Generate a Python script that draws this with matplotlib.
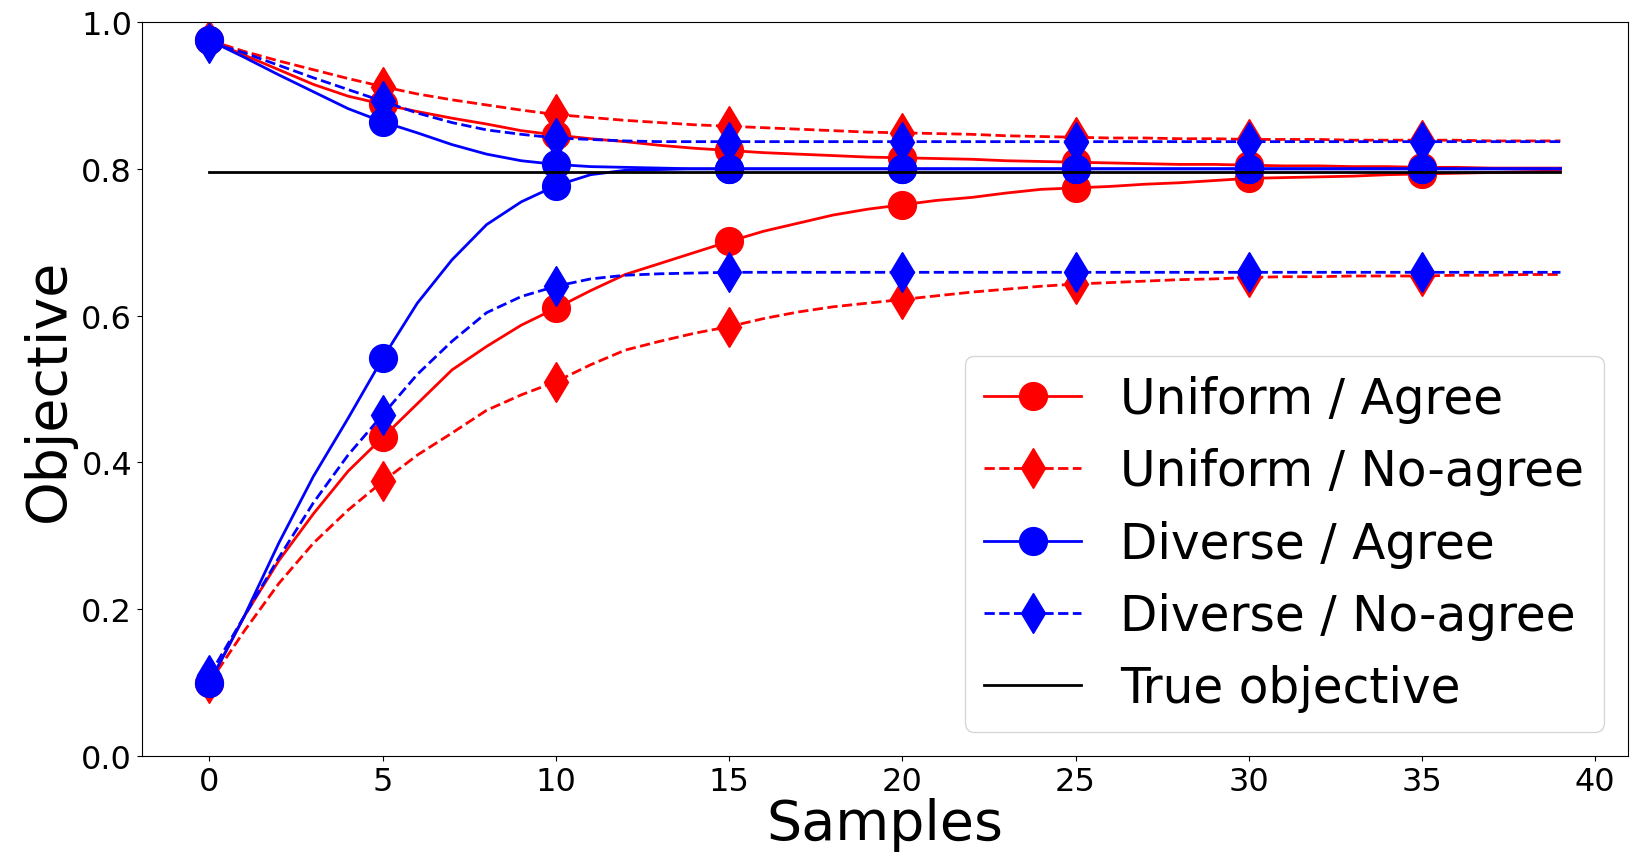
import numpy as np
import matplotlib
matplotlib.use("Agg")
import matplotlib.pyplot as plt

samples = np.arange(40)

# upper (from above) and lower (from below) estimates for each setting
uniform_agree_hi = [0.975, 0.955, 0.935, 0.915, 0.899, 0.888, 0.878, 0.869, 0.861, 0.852,
                    0.846, 0.841, 0.837, 0.832, 0.828, 0.825, 0.822, 0.820, 0.818, 0.816,
                    0.815, 0.814, 0.813, 0.811, 0.810, 0.809, 0.808, 0.807, 0.806, 0.806,
                    0.805, 0.804, 0.804, 0.803, 0.803, 0.802, 0.802, 0.801, 0.801, 0.801]
uniform_agree_lo = [0.100, 0.190, 0.266, 0.330, 0.388, 0.434, 0.480, 0.526, 0.558, 0.587,
                    0.610, 0.634, 0.656, 0.671, 0.686, 0.701, 0.715, 0.726, 0.737, 0.745,
                    0.751, 0.757, 0.761, 0.767, 0.772, 0.774, 0.776, 0.779, 0.781, 0.784,
                    0.787, 0.788, 0.789, 0.790, 0.792, 0.793, 0.794, 0.795, 0.796, 0.797]
uniform_noagree_hi = [0.975, 0.960, 0.947, 0.935, 0.923, 0.912, 0.902, 0.894, 0.887, 0.880,
                      0.874, 0.870, 0.866, 0.863, 0.860, 0.858, 0.856, 0.854, 0.852, 0.850,
                      0.849, 0.848, 0.847, 0.845, 0.844, 0.843, 0.842, 0.842, 0.841, 0.841,
                      0.840, 0.840, 0.840, 0.839, 0.839, 0.839, 0.839, 0.838, 0.838, 0.838]
uniform_noagree_lo = [0.100, 0.170, 0.235, 0.290, 0.335, 0.374, 0.410, 0.440, 0.471, 0.492,
                      0.510, 0.533, 0.553, 0.565, 0.576, 0.585, 0.596, 0.605, 0.612, 0.617,
                      0.622, 0.627, 0.632, 0.636, 0.640, 0.643, 0.645, 0.647, 0.649, 0.650,
                      0.652, 0.653, 0.653, 0.654, 0.654, 0.654, 0.655, 0.655, 0.656, 0.656]
diverse_agree_hi = [0.975, 0.952, 0.928, 0.905, 0.882, 0.864, 0.849, 0.833, 0.820, 0.811,
                    0.806, 0.803, 0.802, 0.801, 0.800, 0.800, 0.800, 0.800, 0.800, 0.800,
                    0.800, 0.800, 0.800, 0.800, 0.800, 0.800, 0.800, 0.800, 0.800, 0.800,
                    0.800, 0.800, 0.800, 0.800, 0.800, 0.800, 0.800, 0.800, 0.800, 0.800]
diverse_agree_lo = [0.100, 0.190, 0.290, 0.381, 0.460, 0.542, 0.617, 0.676, 0.724, 0.755,
                    0.777, 0.792, 0.798, 0.799, 0.800, 0.800, 0.800, 0.800, 0.800, 0.800,
                    0.800, 0.800, 0.800, 0.800, 0.800, 0.800, 0.800, 0.800, 0.800, 0.800,
                    0.800, 0.800, 0.800, 0.800, 0.800, 0.800, 0.800, 0.800, 0.800, 0.800]
diverse_noagree_hi = [0.972, 0.958, 0.941, 0.924, 0.908, 0.892, 0.876, 0.863, 0.853, 0.847,
                      0.842, 0.840, 0.838, 0.837, 0.837, 0.837, 0.837, 0.837, 0.837, 0.837,
                      0.837, 0.837, 0.837, 0.837, 0.837, 0.837, 0.837, 0.837, 0.837, 0.837,
                      0.837, 0.837, 0.837, 0.837, 0.837, 0.837, 0.837, 0.837, 0.837, 0.837]
diverse_noagree_lo = [0.110, 0.190, 0.270, 0.345, 0.410, 0.465, 0.520, 0.565, 0.604, 0.626,
                      0.640, 0.650, 0.655, 0.657, 0.658, 0.659, 0.659, 0.659, 0.659, 0.659,
                      0.659, 0.659, 0.659, 0.659, 0.659, 0.659, 0.659, 0.659, 0.659, 0.659,
                      0.659, 0.659, 0.659, 0.659, 0.659, 0.659, 0.659, 0.659, 0.659, 0.659]
true_objective = 0.796

series = [
    ("Uniform / Agree", uniform_agree_hi, uniform_agree_lo, "red", "-", "o"),
    ("Uniform / No-agree", uniform_noagree_hi, uniform_noagree_lo, "red", "--", "d"),
    ("Diverse / Agree", diverse_agree_hi, diverse_agree_lo, "blue", "-", "o"),
    ("Diverse / No-agree", diverse_noagree_hi, diverse_noagree_lo, "blue", "--", "d"),
]

fig = plt.figure(figsize=(16.39, 8.62), dpi=100)
ax = fig.add_axes([0.0866, 0.1218, 0.9067, 0.8515])

for label, hi, lo, color, ls, mk in series:
    ax.plot(samples, hi, color=color, linestyle=ls, marker=mk, markersize=20,
            markevery=5, linewidth=2, label=label)
    ax.plot(samples, lo, color=color, linestyle=ls, marker=mk, markersize=20,
            markevery=5, linewidth=2)

ax.plot([samples[0], samples[-1]], [true_objective, true_objective],
        color="black", linewidth=2, label="True objective")

ax.set_ylim(0, 1.0)
ax.set_xticks(np.arange(0, 41, 5))
ax.tick_params(labelsize=23)
ax.set_xlabel("Samples", fontsize=40, labelpad=0)
ax.set_ylabel("Objective", fontsize=40)
ax.legend(loc="lower right", fontsize=35)

fig.savefig("out.png", dpi=100)
